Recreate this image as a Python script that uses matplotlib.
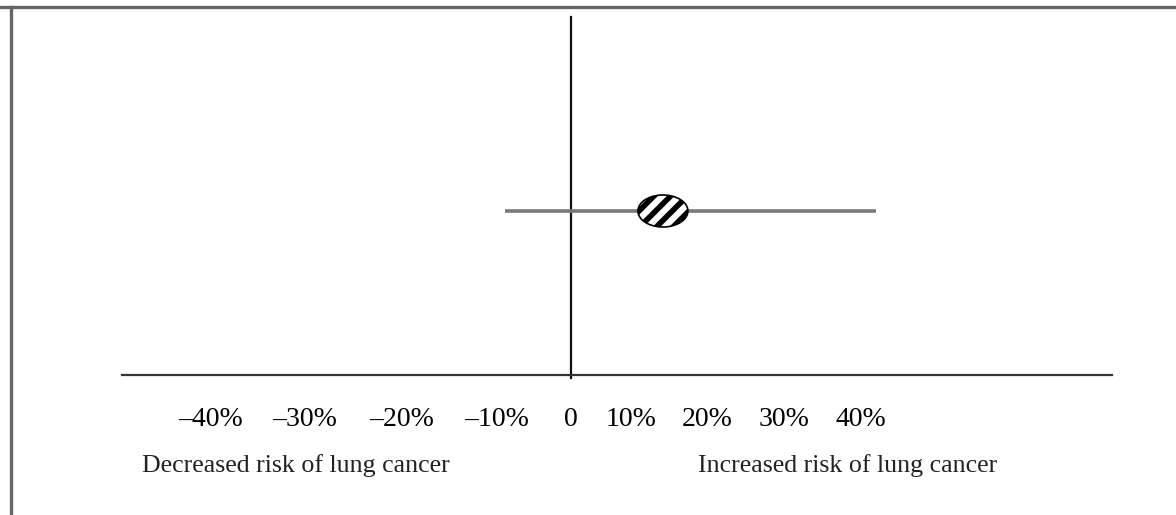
import numpy as np
import matplotlib
matplotlib.use("Agg")
import matplotlib.pyplot as plt
from matplotlib.path import Path
from matplotlib.lines import Line2D

# ---- data ----
tick_values = [-40, -30, -20, -10, 0, 10, 20, 30, 40]
tick_labels = ["\u201340%", "\u201330%", "\u201320%", "\u201310%", "0", "10%", "20%", "30%", "40%"]
# horizontal position (pixels) of each tick label as drawn in the original (irregular axis)
tick_pixels = [210, 305, 402, 497, 571, 631, 707, 784, 861]
estimate = 14.2        # point estimate (% change in risk)
ci_low = -8.9
ci_high = 42.0
left_text = "Decreased risk of lung cancer"
right_text = "Increased risk of lung cancer"

# ---- irregular scale built from the tick positions ----
P = np.array([-100] + tick_values + [120], dtype=float)
X = np.array([tick_pixels[0] - 95 * 6] + tick_pixels + [tick_pixels[-1] + 77 * 8], dtype=float)

def fwd(v):
    return np.interp(v, P, X)

def inv(x):
    return np.interp(x, X, P)

plt.rcParams['font.family'] = ['Liberation Serif', 'DejaVu Serif']
plt.rcParams['hatch.linewidth'] = 4.0

W, H = 1176, 515
fig = plt.figure(figsize=(W / 100, H / 100), dpi=100)
fig.patch.set_facecolor('white')

# frame (top and left borders of the original picture)
fig.add_artist(Line2D([0, 1], [1 - 6.5 / H, 1 - 6.5 / H], color='#666666', lw=2.4, transform=fig.transFigure))
fig.add_artist(Line2D([11 / W, 11 / W], [0, 1 - 6.5 / H], color='#666666', lw=2.4, transform=fig.transFigure))

ax_left, ax_right = 122, 1112
ax_top, ax_bottom = 17, 375
ax = fig.add_axes([ax_left / W, 1 - ax_bottom / H, (ax_right - ax_left) / W, (ax_bottom - ax_top) / H])
ax.set_xscale('function', functions=(fwd, inv))
ax.set_xlim(inv(ax_left), inv(ax_right))
ax.set_ylim(0, 1)
for s in ['top', 'right', 'left']:
    ax.spines[s].set_visible(False)
ax.spines['bottom'].set_color('#333333')
ax.spines['bottom'].set_linewidth(1.6)
ax.set_yticks([])
ax.set_xticks(tick_values)
ax.set_xticklabels(tick_labels, fontsize=20)
ax.tick_params(axis='x', length=0, pad=23, colors='black')
ax.minorticks_off()

# vertical line of no effect
ax.plot([0, 0], [-0.008, 1], color='#111111', lw=1.6, clip_on=False)

# confidence interval
yrow = (ax_bottom - 211) / (ax_bottom - ax_top)
ax.plot([ci_low, ci_high], [yrow, yrow], color='#7a7a7a', lw=2.6, solid_capstyle='butt')

# elliptical hatched point estimate
t = np.linspace(0, 2 * np.pi, 100)
ell = Path(np.column_stack([np.cos(t), 0.64 * np.sin(t)]), closed=True)
ax.scatter([estimate], [yrow], marker=ell, s=36 ** 2, facecolor='white',
           edgecolor='black', linewidths=1.2, hatch='//', zorder=5)

# descriptive labels
fig.text(142 / W, 1 - 466 / H, left_text, fontsize=18.6, ha='left', va='center', color='#222222')
fig.text(698 / W, 1 - 466 / H, right_text, fontsize=18.6, ha='left', va='center', color='#222222')

fig.savefig('out.png', dpi=100, facecolor='white')
